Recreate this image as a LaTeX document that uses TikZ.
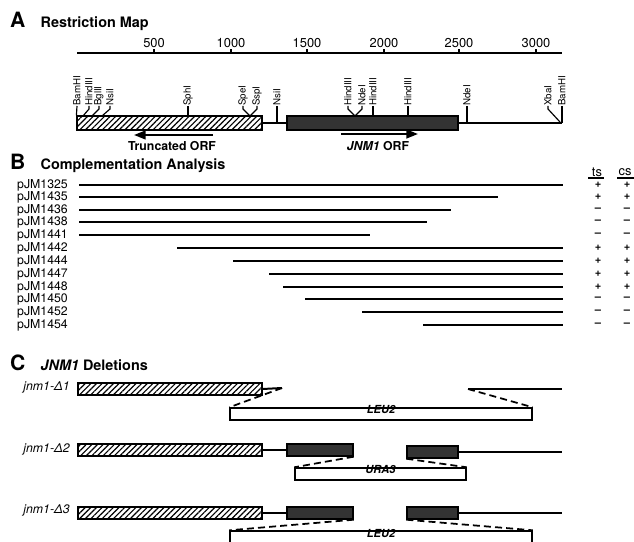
\documentclass[tikz,border=0pt]{standalone}
\usepackage{fontspec}
\setmainfont{TeX Gyre Heros}
\usetikzlibrary{positioning}
\usetikzlibrary{fit}
\usetikzlibrary{arrows.meta}
\usetikzlibrary{patterns.meta}

\begin{document}
\begin{tikzpicture}[x=0.03cm, y=-0.03cm,
    panel/.style={font=\fontsize{18}{18}\selectfont\bfseries, inner sep=0pt, anchor=base west},
    heading/.style={font=\fontsize{12.3}{12.3}\selectfont\bfseries, inner sep=0pt},
    bp/.style={font=\fontsize{11}{11}\selectfont, inner sep=0pt, anchor=base},
    enzyme/.style={rotate=90, anchor=west, font=\fontsize{8.3}{8.3}\selectfont, inner sep=0pt},
    orfname/.style={font=\fontsize{10.5}{10.5}\selectfont\bfseries, inner sep=0pt},
    plasmid/.style={font=\fontsize{10.5}{10.5}\selectfont, inner sep=0pt, anchor=west},
    pheno/.style={font=\fontsize{11}{11}\selectfont, inner sep=0pt},
    sign/.style={font=\fontsize{9.5}{9.5}\selectfont\bfseries, inner sep=0pt},
    allele/.style={font=\fontsize{10.5}{10.5}\selectfont\itshape, inner sep=0pt, anchor=east},
    hatchbox/.style={draw, line width=1.2pt, inner sep=0pt, pattern={Lines[angle=45,distance=3.4pt,line width=1pt]}},
    orfbox/.style={draw, line width=1.2pt, inner sep=0pt, fill=black!80},
    markerbox/.style={draw, line width=1.2pt, inner sep=0pt, fill=white, font=\fontsize{9.5}{9.5}\selectfont\bfseries\itshape},
    dna/.style={line width=1.7pt},
    stub/.style={line width=1pt},
    crossover/.style={line width=1.5pt, dash pattern=on 6pt off 3.5pt},
    orfarrow/.style={line width=1.7pt, -{Triangle[length=10pt,width=7.5pt]}},
    ]

    \useasboundingbox[fill=white] (0,0) rectangle (634,542);
    \clip (0,0) rectangle (634,542);

    % A: restriction map
    \node(A)[panel] at (10,28) {A};
    \node(Ah)[heading, base right=0.44cm of A] {Restriction Map};

    \coordinate(s0) at (77,53);
    \coordinate(s1) at (562,53);
    \draw[dna] (s0) -- (s1);
    \draw[stub] (154,53) -- (154,49);
    \draw[stub] (231,53) -- (231,49);
    \draw[stub] (307,53) -- (307,49);
    \draw[stub] (384,53) -- (384,49);
    \draw[stub] (459,53) -- (459,49);
    \draw[stub] (536,53) -- (536,49);
    \node(b500)[bp] at (154,48) {500};
    \node(b1000)[bp] at (231,48) {1000};
    \node(b1500)[bp] at (307,48) {1500};
    \node(b2000)[bp] at (384,48) {2000};
    \node(b2500)[bp] at (459,48) {2500};
    \node(b3000)[bp] at (536,48) {3000};

    \node(T)[hatchbox, fit={(77,116) (262,130)}] {};
    \node(J)[orfbox, fit={(287,116) (458,130)}] {};
    \coordinate(R) at (562,123);
    \draw[dna] (T.east) -- (J.west);
    \draw[dna] (J.east) -- (R);

    \node(e1)[enzyme] at (77,106) {BamHI};
    \node(e2)[enzyme] at (89,106) {HindIII};
    \node(e3)[enzyme] at (99,106) {BglII};
    \node(e4)[enzyme] at (110,106) {NsiI};
    \node(e5)[enzyme] at (188,106) {SphI};
    \node(e6)[enzyme] at (243,106) {SpeI};
    \node(e7)[enzyme] at (257,106) {SspI};
    \node(e8)[enzyme] at (277,106) {NsiI};
    \node(e9)[enzyme] at (348,106) {HindIII};
    \node(e10)[enzyme] at (362,106) {NdeI};
    \node(e11)[enzyme] at (373,106) {HindIII};
    \node(e12)[enzyme] at (408,106) {HindIII};
    \node(e13)[enzyme] at (467,106) {NdeI};
    \node(e14)[enzyme] at (548,106) {XbaI};
    \node(e15)[enzyme] at (562,106) {BamHI};

    \draw[stub] (e1.west) -- (T.north west);
    \draw[stub] (e2.west) -- ++(0,3) -- (83,116);
    \draw[stub] (e3.west) -- ++(0,3) -- (92,116);
    \draw[stub] (e4.west) -- ++(0,3) -- (102,116);
    \draw[stub] (e5.west) -- (188,116);
    \draw[stub] (e6.west) -- ++(0,3) -- (250,116);
    \draw[stub] (e7.west) -- ++(0,3) -- (250,116);
    \draw[stub] (e8.west) -- (277,123);
    \draw[stub] (e9.west) -- ++(0,3) -- (355,116);
    \draw[stub] (e10.west) -- ++(0,3) -- (355,116);
    \draw[stub] (e11.west) -- (373,116);
    \draw[stub] (e12.west) -- (408,116);
    \draw[stub] (e13.west) -- (467,123);
    \draw[stub] (e14.west) -- ++(0,3) -- (560,122);
    \draw[stub] (e15.west) -- (R);

    \coordinate(tr1) at (213,135);
    \coordinate(tr2) at (134,135);
    \draw[orfarrow] (tr1) -- (tr2);
    \node(TL)[orfname] at (172,146) {Truncated ORF};
    \coordinate(jn1) at (341,134);
    \coordinate(jn2) at (418,134);
    \draw[orfarrow] (jn1) -- (jn2);
    \node(JL)[orfname] at (378,146) {\textit{JNM1} ORF};

    % B: complementation analysis
    \node(B)[panel] at (10,170) {B};
    \node(Bh)[heading, base right=0.44cm of B] {Complementation Analysis};

    \node(ts)[pheno] at (597,172) {ts};
    \node(cs)[pheno] at (625,172) {cs};
    \draw[stub] (588,178) -- (604,178);
    \draw[stub] (617,178) -- (634,178);

    \node(p1325)[plasmid] at (17,185) {pJM1325};
    \node(p1435)[plasmid] at (17,197) {pJM1435};
    \node(p1436)[plasmid] at (17,210) {pJM1436};
    \node(p1438)[plasmid] at (17,222) {pJM1438};
    \node(p1441)[plasmid] at (17,235) {pJM1441};
    \node(p1442)[plasmid] at (17,248) {pJM1442};
    \node(p1444)[plasmid] at (17,261) {pJM1444};
    \node(p1447)[plasmid] at (17,274) {pJM1447};
    \node(p1448)[plasmid] at (17,287) {pJM1448};
    \node(p1450)[plasmid] at (17,299) {pJM1450};
    \node(p1452)[plasmid] at (17,312) {pJM1452};
    \node(p1454)[plasmid] at (17,325) {pJM1454};

    \draw[dna] (79,185) -- (563,185);
    \draw[dna] (79,197) -- (498,197);
    \draw[dna] (79,210) -- (451,210);
    \draw[dna] (79,222) -- (427,222);
    \draw[dna] (79,235) -- (370,235);
    \draw[dna] (177,248) -- (563,248);
    \draw[dna] (233,261) -- (563,261);
    \draw[dna] (269,274) -- (563,274);
    \draw[dna] (283,287) -- (563,287);
    \draw[dna] (305,299) -- (563,299);
    \draw[dna] (362,312) -- (563,312);
    \draw[dna] (423,325) -- (563,325);

    \node(t1)[sign] at (598,185) {+};   \node(c1)[sign] at (627,185) {+};
    \node(t2)[sign] at (598,197) {+};   \node(c2)[sign] at (627,197) {+};
    \node(t3)[sign] at (598,210) {–};   \node(c3)[sign] at (627,210) {–};
    \node(t4)[sign] at (598,222) {–};   \node(c4)[sign] at (627,222) {–};
    \node(t5)[sign] at (598,235) {–};   \node(c5)[sign] at (627,235) {–};
    \node(t6)[sign] at (598,248) {+};   \node(c6)[sign] at (627,248) {+};
    \node(t7)[sign] at (598,261) {+};   \node(c7)[sign] at (627,261) {+};
    \node(t8)[sign] at (598,274) {+};   \node(c8)[sign] at (627,274) {+};
    \node(t9)[sign] at (598,287) {+};   \node(c9)[sign] at (627,287) {+};
    \node(t10)[sign] at (598,299) {–};  \node(c10)[sign] at (627,299) {–};
    \node(t11)[sign] at (598,312) {–};  \node(c11)[sign] at (627,312) {–};
    \node(t12)[sign] at (598,325) {–};  \node(c12)[sign] at (627,325) {–};

    % C: JNM1 deletions
    \node(C)[panel] at (10,371) {C};
    \node(Ch)[heading, base right=0.44cm of C] {\textit{JNM1} Deletions};

    % jnm1-d1
    \node(d1)[allele] at (70,387) {jnm1-Δ1};
    \node(H1)[hatchbox, fit={(78,383) (262,395)}] {};
    \node(L1)[markerbox, fit={(230,408) (532,420)}] {LEU2};
    \coordinate(k1) at (282,388);
    \coordinate(g1) at (468,389);
    \coordinate(g1e) at (562,389);
    \draw[dna] (H1.east) -- (k1);
    \draw[crossover] (k1) -- (L1.north west);
    \draw[dna] (g1) -- (g1e);
    \draw[crossover] (g1) -- (L1.north east);

    % jnm1-d2
    \node(d2)[allele] at (70,449) {jnm1-Δ2};
    \node(H2)[hatchbox, fit={(78,444) (262,456)}] {};
    \node(D2a)[orfbox, fit={(287,444) (353,456)}] {};
    \node(D2b)[orfbox, fit={(407,446) (458,458)}] {};
    \node(U2)[markerbox, fit={(295,468) (466,480)}] {URA3};
    \coordinate(g2e) at (562,452);
    \draw[dna] (H2.east) -- (D2a.west);
    \draw[dna] (D2b.east) -- (g2e);
    \draw[crossover] (D2a.south east) -- (U2.north west);
    \draw[crossover] (D2b.south west) -- (U2.north east);

    % jnm1-d3
    \node(d3)[allele] at (70,510) {jnm1-Δ3};
    \node(H3)[hatchbox, fit={(78,507) (262,519)}] {};
    \node(D3a)[orfbox, fit={(287,507) (353,519)}] {};
    \node(D3b)[orfbox, fit={(407,507) (458,519)}] {};
    \node(L3)[markerbox, fit={(230,531) (532,545)}] {LEU2};
    \coordinate(g3e) at (562,513);
    \draw[dna] (H3.east) -- (D3a.west);
    \draw[dna] (D3b.east) -- (g3e);
    \draw[crossover] (D3a.south east) -- (L3.north west);
    \draw[crossover] (D3b.south west) -- (L3.north east);

\end{tikzpicture}
\end{document}
